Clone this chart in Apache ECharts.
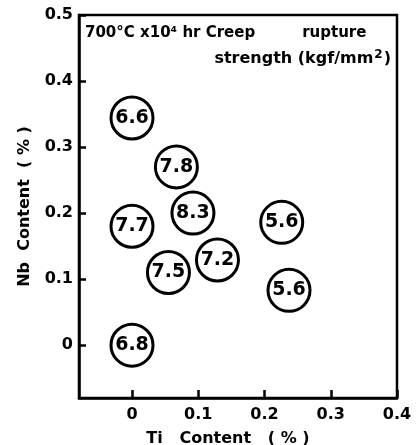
<!DOCTYPE html>
<html>
<head>
<meta charset="utf-8">
<script src="https://cdn.jsdelivr.net/npm/echarts@6/dist/echarts.min.js"></script>
<style>html,body{margin:0;padding:0;background:#fff}#c{width:419px;height:445px}</style>
</head>
<body>
<div id="c"></div>
<script>
const tiContent = [0, 0.067, 0.092, 0, 0.226, 0.129, 0.055, 0.237, 0];
const nbContent = [0.344, 0.27, 0.2, 0.18, 0.186, 0.129, 0.11, 0.083, 0];
const strength = ['6.6', '7.8', '8.3', '7.7', '5.6', '7.2', '7.5', '5.6', '6.8'];
const xTicks = [0, 0.1, 0.2, 0.3, 0.4];
const yTicks = [0, 0.1, 0.2, 0.3, 0.4, 0.5];

const FONT = '"DejaVu Sans", "Liberation Sans", Arial, sans-serif';
const chart = echarts.init(document.getElementById('c'));
const data = tiContent.map((x, i) => [x, nbContent[i], strength[i]]);
chart.setOption({
  animation: false,
  backgroundColor: '#fff',
  grid: { left: 79, right: 22, top: 15, bottom: 47, show: true, borderColor: '#000', borderWidth: 2.5,
    containLabel: false, outerBoundsMode: 'none' },
  xAxis: {
    type: 'value', min: -0.08, max: 0.4,
    name: 'Ti   Content   ( % )', nameLocation: 'middle', nameGap: 33,
    nameTextStyle: { fontFamily: FONT, fontWeight: 'bold', fontSize: 16, color: '#000', padding: [0, 20, 0, 0] },
    axisLine: { show: true, onZero: false, lineStyle: { color: '#000', width: 2.5 } },
    axisTick: { show: true, inside: true, length: 8, customValues: xTicks, lineStyle: { color: '#000', width: 2.5 } },
    axisLabel: { customValues: xTicks, margin: 9, fontFamily: FONT, fontWeight: 'bold', fontSize: 16, color: '#000',
      formatter: v => v === 0 ? '0' : v.toFixed(1) },
    splitLine: { show: false }
  },
  yAxis: {
    type: 'value', min: -0.08, max: 0.5,
    name: 'Nb  Content  ( % )', nameLocation: 'middle', nameGap: 46,
    nameTextStyle: { fontFamily: FONT, fontWeight: 'bold', fontSize: 16, color: '#000' },
    axisLine: { show: true, onZero: false, lineStyle: { color: '#000', width: 2.5 } },
    axisTick: { show: true, inside: true, length: 7, customValues: yTicks, lineStyle: { color: '#000', width: 2.5 } },
    axisLabel: { customValues: yTicks, margin: 6, fontFamily: FONT, fontWeight: 'bold', fontSize: 16, color: '#000',
      formatter: v => v === 0 ? '0' : v.toFixed(1) },
    splitLine: { show: false }
  },
  series: [{
    type: 'scatter',
    data: data,
    symbol: 'circle',
    symbolSize: 42,
    itemStyle: { color: '#fff', borderColor: '#000', borderWidth: 3, opacity: 1 },
    label: { show: true, position: 'inside', formatter: p => p.data[2],
      fontFamily: FONT, fontWeight: 'bold', fontSize: 19, color: '#000' }
  }],
  graphic: [
    { type: 'text', left: 85, top: 26, style: { text: '700°C x10⁴ hr Creep         rupture', font: 'bold 15px ' + FONT, fill: '#000' } },
    { type: 'text', right: 28, top: 49, style: {
        text: '{a|strength (kgf/mm}{s|2}{a|)}',
        rich: {
          a: { fontFamily: FONT, fontWeight: 'bold', fontSize: 16, fill: '#000', verticalAlign: 'bottom', lineHeight: 18 },
          s: { fontFamily: FONT, fontWeight: 'bold', fontSize: 12, fill: '#000', verticalAlign: 'top', lineHeight: 18, padding: [0, 1, 6, 1] }
        }
      } }
  ]
});
</script>
</body>
</html>
